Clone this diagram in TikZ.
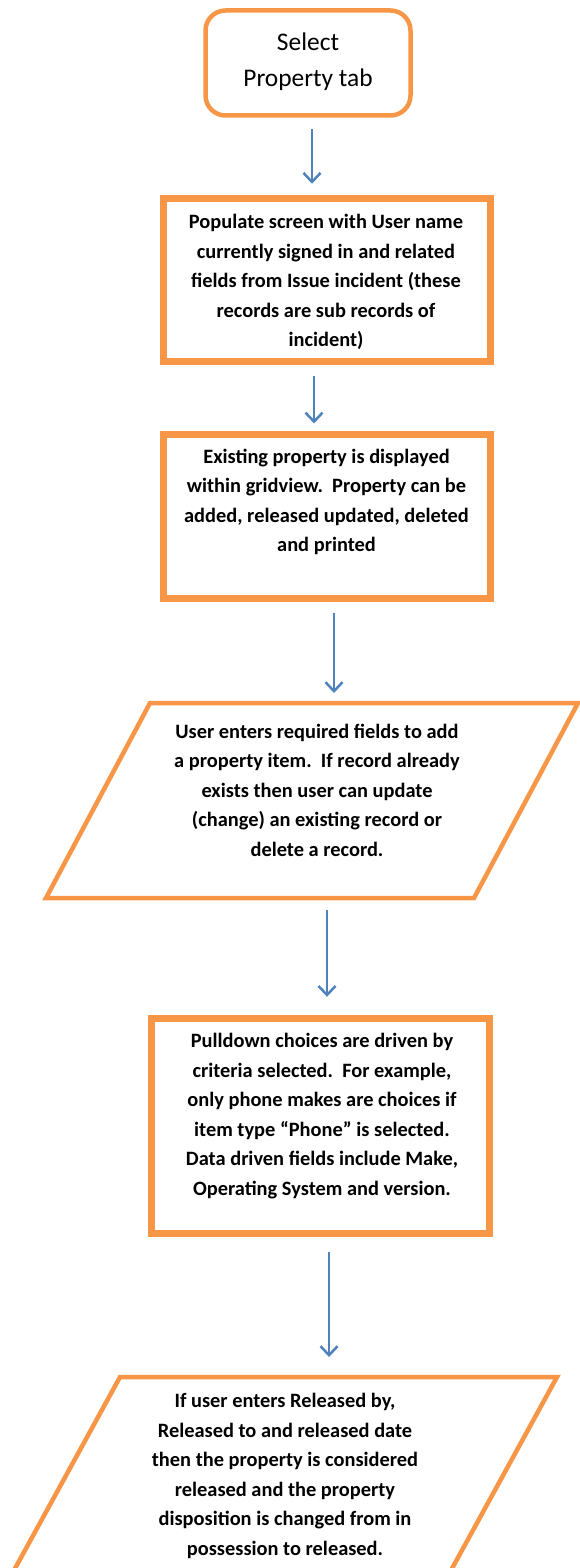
\documentclass[tikz,border=0pt]{standalone}
\usepackage{fontspec}
\setmainfont{Carlito}
\usepackage{tikz}
\usetikzlibrary{arrows.meta}
\definecolor{boxorange}{HTML}{F79646}
\definecolor{flowblue}{HTML}{4F81BD}

\tikzset{
  startbox/.style={draw=boxorange, line width=4.5pt, rounded corners=20pt,
    minimum width=205pt, minimum height=105pt},
  stepbox/.style={draw=boxorange, line width=7pt},
  iobox/.style={draw=boxorange, line width=4.5pt},
  boxtext/.style={align=center, inner sep=0pt,
    font=\fontsize{20.4}{29.5}\selectfont\bfseries},
  flow/.style={draw=flowblue, line width=2.5pt,
    -{Straight Barb[length=9pt,width=17pt]}}
}

\begin{document}
\begin{tikzpicture}[x=1pt, y=-1pt]
    \useasboundingbox (0,0) rectangle (580,1568);

    % shapes
    \node[startbox] (sel) at (308,63) {};
    \node[stepbox, minimum width=327pt, minimum height=163.5pt] (pop) at (326.5,280) {};
    \node[stepbox, minimum width=327pt, minimum height=164.5pt] (grid) at (326.5,516.7) {};
    \draw[iobox] (150,703) coordinate (enter-top) -- (578,703) -- (474,898)
        -- (46,898) coordinate (enter-bot) -- cycle;
    \node[stepbox, minimum width=338pt, minimum height=215pt] (pull) at (320.7,1125.8) {};
    \draw[iobox] (120,1377) coordinate (rel-top) -- (557,1377) -- (432,1605)
        -- (-5,1605) -- cycle;

    % texts
    \node[align=center, inner sep=0pt, font=\fontsize{25.4}{36}\selectfont] (selt) at (308,62)
        {Select\\Property tab};
    \node[boxtext] (popt) at (326,282)
        {Populate screen with User name\\currently signed in and related\\fields from Issue incident (these\\records are sub records of\\incident)};
    \node[boxtext] (gridt) at (326.5,502)
        {Existing property is displayed\\within gridview.~~Property can be\\added, released updated, deleted\\and printed};
    \node[boxtext] (entert) at (317,790)
        {User enters required fields to add\\a property item.~~If record already\\exists then user can update\\(change) an existing record or\\delete a record.};
    \node[boxtext] (pullt) at (322,1116)
        {Pulldown choices are driven by\\criteria selected.~~For example,\\only phone makes are choices if\\item type “Phone” is selected.\\Data driven fields include Make,\\Operating System and version.};
    \node[boxtext] (relt) at (285,1476)
        {If user enters Released by,\\Released to and released date\\then the property is considered\\released and the property\\disposition is changed from in\\possession to released.};

    % arrows
    \coordinate (c1) at (312,0);
    \coordinate (c2) at (314,0);
    \coordinate (c3) at (334,0);
    \coordinate (c4) at (327,0);
    \coordinate (c5) at (329,0);
    \draw[flow, shorten <=11.5pt, shorten >=11pt] (sel.south -| c1) -- (pop.north -| c1);
    \draw[flow, shorten <=10.5pt, shorten >=7.5pt] (pop.south -| c2) -- (grid.north -| c2);
    \draw[flow, shorten <=11pt, shorten >=10pt] (grid.south -| c3) -- (enter-top -| c3);
    \draw[flow, shorten <=12pt, shorten >=18pt] (enter-bot -| c4) -- (pull.north -| c4);
    \draw[flow, shorten <=15pt, shorten >=20pt] (pull.south -| c5) -- (rel-top -| c5);
\end{tikzpicture}
\end{document}
